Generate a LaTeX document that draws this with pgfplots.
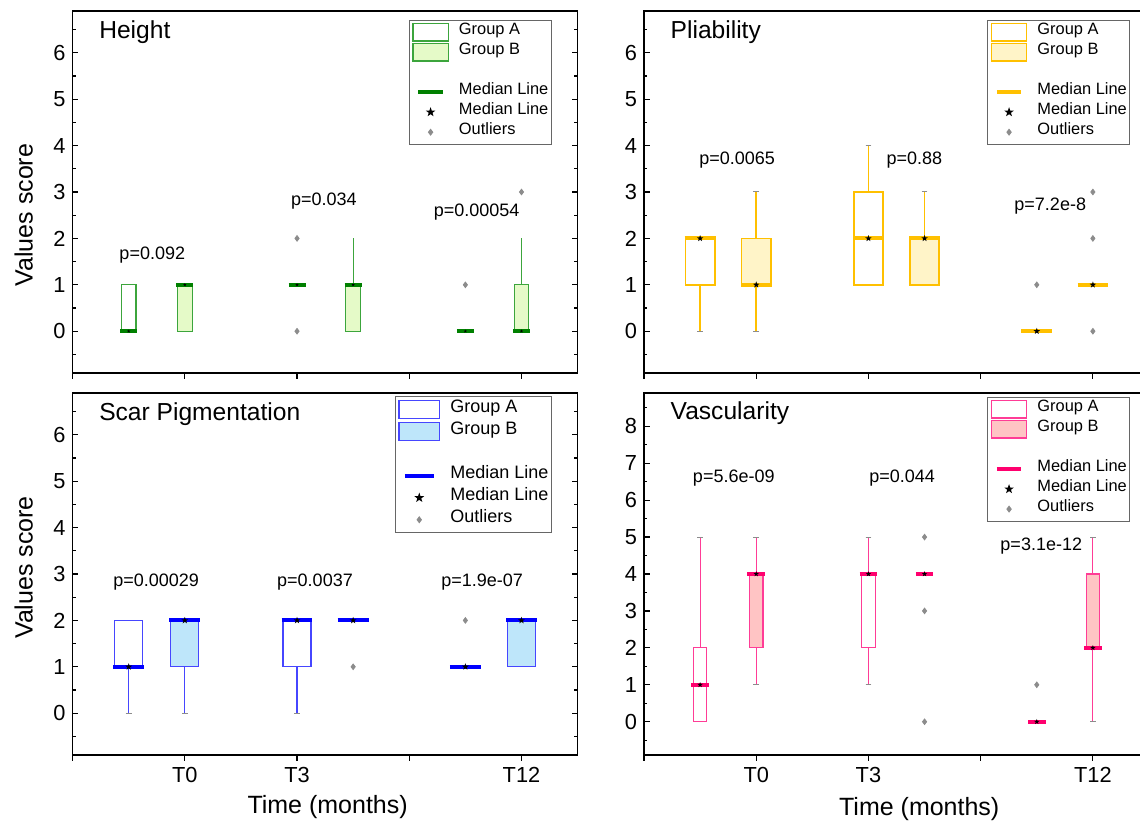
\documentclass[border=0pt]{standalone}
\usepackage{fontspec}
\setmainfont{Liberation Sans}
\usepackage{pgfplots}
\pgfplotsset{compat=1.18}
\usepgfplotslibrary{statistics}

\definecolor{hline}{RGB}{60,165,60}
\definecolor{hmed}{RGB}{0,128,0}
\definecolor{hfill}{RGB}{229,250,200}
\definecolor{pline}{RGB}{255,192,0}
\definecolor{pmed}{RGB}{255,192,0}
\definecolor{pfill}{RGB}{255,244,200}
\definecolor{sline}{RGB}{70,70,255}
\definecolor{smed}{RGB}{0,0,255}
\definecolor{sfill}{RGB}{190,230,250}
\definecolor{vline}{RGB}{255,60,150}
\definecolor{vmed}{RGB}{255,0,110}
\definecolor{vfill}{RGB}{255,196,196}
\definecolor{outc}{RGB}{140,140,140}

% filled five-pointed star
\pgfdeclareplotmark{fstar}{%
  \pgfpathmoveto{\pgfpointpolar{90}{\pgfplotmarksize}}%
  \pgfpathlineto{\pgfpointpolar{126}{0.4\pgfplotmarksize}}%
  \pgfpathlineto{\pgfpointpolar{162}{\pgfplotmarksize}}%
  \pgfpathlineto{\pgfpointpolar{198}{0.4\pgfplotmarksize}}%
  \pgfpathlineto{\pgfpointpolar{234}{\pgfplotmarksize}}%
  \pgfpathlineto{\pgfpointpolar{270}{0.4\pgfplotmarksize}}%
  \pgfpathlineto{\pgfpointpolar{306}{\pgfplotmarksize}}%
  \pgfpathlineto{\pgfpointpolar{342}{0.4\pgfplotmarksize}}%
  \pgfpathlineto{\pgfpointpolar{18}{\pgfplotmarksize}}%
  \pgfpathlineto{\pgfpointpolar{54}{0.4\pgfplotmarksize}}%
  \pgfpathclose\pgfusepathqfill}

\tikzset{
  ptext/.style={font=\fontsize{9}{11}\selectfont},
  ttl/.style={anchor=west, inner sep=0pt, font=\fontsize{12.3}{14}\selectfont},
}

\pgfplotsset{
  panel/.style={
    scale only axis, width=252.5pt, height=181pt,
    xmin=0, xmax=4.5, xtick={0,1,2,3,4},
    xtick pos=left, xtick align=outside, ytick align=inside,
    major tick length=2.8pt, minor tick length=1.6pt,
    every tick/.style={black, line width=0.6pt},
    axis line style={line width=0.7pt},
    /pgf/number format/assume math mode=true,
    tick label style={font=\fontsize{10.9}{12}\selectfont},
    label style={font=\fontsize{12.5}{14}\selectfont},
    clip=false,
    boxplot/draw direction=y,
    boxplot/whisker extend=0.05,
    boxplot/draw/lower whisker/.code={%
      \draw[/pgfplots/boxplot/every whisker/.try]
        (boxplot cs:\pgfplotsboxplotvalue{lower quartile}) --
        (boxplot cs:\pgfplotsboxplotvalue{lower whisker});
      \draw[outc, line width=0.5pt]
        (boxplot whisker cs:\pgfplotsboxplotvalue{lower whisker},0) --
        (boxplot whisker cs:\pgfplotsboxplotvalue{lower whisker},1);},
    boxplot/draw/upper whisker/.code={%
      \draw[/pgfplots/boxplot/every whisker/.try]
        (boxplot cs:\pgfplotsboxplotvalue{upper quartile}) --
        (boxplot cs:\pgfplotsboxplotvalue{upper whisker});
      \draw[outc, line width=0.5pt]
        (boxplot whisker cs:\pgfplotsboxplotvalue{upper whisker},0) --
        (boxplot whisker cs:\pgfplotsboxplotvalue{upper whisker},1);},
    legend cell align=left,
  },
  sixrange/.style={ymin=-0.9, ymax=6.9, ytick={0,...,6}, minor ytick={-0.5,0.5,...,6.5}},
  bx/.style n args={4}{forget plot, draw=#1, line width=0.6pt, boxplot/box extend=#3,
    boxplot/every median/.style={draw=#2, line width=2pt, shorten <=-#4, shorten >=-#4}},
  outl/.style={forget plot, only marks, mark=diamond*, mark size=1.4pt, color=outc},
  med/.style={forget plot, only marks, mark=fstar, mark size=#1, color=black},
  leg/.style n args={5}{legend style={at={(#1,#2)}, anchor=north east,
    draw=black!60, line width=0.5pt, font=\fontsize{#3}{10}\selectfont,
    inner xsep=1.5pt, inner ysep=1pt, row sep=0pt, column sep=5pt,
    nodes={inner sep=0pt, text height=#4, text depth=#5}, cells={anchor=west}}},
  legbox/.style n args={4}{legend image code/.code={%
    \draw[draw=#1, fill=#2, line width=0.7pt] (0pt,-#4) rectangle (#3,#4);}},
  legline/.style n args={4}{legend image code/.code={%
    \path[draw=none, fill=none] (0pt,-4pt) rectangle (#4,4pt);
    \draw[#1, line width=2pt] (#2,0pt) -- (#3,0pt);}},
  legmark/.style n args={4}{legend image code/.code={%
    \path[draw=none, fill=none] (0pt,-4pt) rectangle (#4,4pt);
    \draw[#1, fill=#1] plot[only marks, mark=#2, mark size=#3] coordinates {(0.5*#4,0pt)};}},
}

\begin{document}
\begin{tikzpicture}
\useasboundingbox (0,0) rectangle (570pt,412pt);
\clip (0,0) rectangle (570pt,412pt);

% ---------------- Height ----------------
\begin{axis}[panel, sixrange, at={(36.3pt,225.5pt)}, anchor=south west,
  xticklabels={,,,,},
  ylabel={Values score}, ylabel style={at={(axis description cs:-0.097,0.436)}, anchor=center},
  boxplot/whisker extend=0,
  leg={0.949}{0.976}{8.2}{6.3pt}{3.7pt}]
\addplot[bx={hline}{hmed}{0.13}{0.6pt}, fill=white, boxplot prepared={draw position=0.5,
  lower whisker=0, lower quartile=0, median=0, upper quartile=1, upper whisker=1}] coordinates {};
\addplot[bx={hline}{hmed}{0.13}{0.6pt}, fill=hfill, boxplot prepared={draw position=1,
  lower whisker=0, lower quartile=0, median=1, upper quartile=1, upper whisker=1}] coordinates {};
\addplot[bx={hline}{hmed}{0.13}{0.6pt}, fill=white, boxplot prepared={draw position=2,
  lower whisker=1, lower quartile=1, median=1, upper quartile=1, upper whisker=1}] coordinates {};
\addplot[bx={hline}{hmed}{0.13}{0.6pt}, fill=hfill, boxplot prepared={draw position=2.5,
  lower whisker=0, lower quartile=0, median=1, upper quartile=1, upper whisker=2}] coordinates {};
\addplot[bx={hline}{hmed}{0.13}{0.6pt}, fill=white, boxplot prepared={draw position=3.5,
  lower whisker=0, lower quartile=0, median=0, upper quartile=0, upper whisker=0}] coordinates {};
\addplot[bx={hline}{hmed}{0.13}{0.6pt}, fill=hfill, boxplot prepared={draw position=4,
  lower whisker=0, lower quartile=0, median=0, upper quartile=1, upper whisker=2}] coordinates {};
\addplot[outl] coordinates {(2,2) (2,0) (3.5,1) (4,3)};
\addplot[med=0.9pt] coordinates {(0.5,0) (1,1) (2,1) (2.5,1) (3.5,0) (4,0)};
\addlegendimage{legbox={hline}{white}{17.7pt}{4.4pt}}\addlegendentry{Group A}
\addlegendimage{legbox={hline}{hfill}{17.7pt}{4.4pt}}\addlegendentry{Group B}
\addlegendimage{empty legend}\addlegendentry{}
\addlegendimage{legline={hmed}{2.8pt}{15pt}{17.7pt}}\addlegendentry{Median Line}
\addlegendimage{legmark={black}{fstar}{2.5pt}{17.7pt}}\addlegendentry{Median Line}
\addlegendimage{legmark={outc}{diamond*}{1.4pt}{17.7pt}}\addlegendentry{Outliers}
\node[ttl] at (rel axis cs:0.052,0.942) {Height};
\node[ptext] at (axis cs:0.71,1.64) {p=0.092};
\node[ptext] at (axis cs:2.24,2.81) {p=0.034};
\node[ptext] at (axis cs:3.6,2.56) {p=0.00054};
\end{axis}

% ---------------- Pliability ----------------
\begin{axis}[panel, sixrange, at={(322pt,225.5pt)}, anchor=south west,
  xticklabels={,,,,},
  leg={0.963}{0.976}{8.2}{6.3pt}{3.7pt}]
\addplot[bx={pline}{pmed}{0.26}{0.4pt}, line width=0.8pt, fill=white, boxplot prepared={draw position=0.5,
  lower whisker=0, lower quartile=1, median=2, upper quartile=2, upper whisker=2}] coordinates {};
\addplot[bx={pline}{pmed}{0.26}{0.4pt}, line width=0.8pt, fill=pfill, boxplot prepared={draw position=1,
  lower whisker=0, lower quartile=1, median=1, upper quartile=2, upper whisker=3}] coordinates {};
\addplot[bx={pline}{pmed}{0.26}{0.4pt}, line width=0.8pt, fill=white, boxplot prepared={draw position=2,
  lower whisker=1, lower quartile=1, median=2, upper quartile=3, upper whisker=4}] coordinates {};
\addplot[bx={pline}{pmed}{0.26}{0.4pt}, line width=0.8pt, fill=pfill, boxplot prepared={draw position=2.5,
  lower whisker=1, lower quartile=1, median=2, upper quartile=2, upper whisker=3}] coordinates {};
\addplot[bx={pline}{pmed}{0.26}{0.4pt}, line width=0.8pt, fill=white, boxplot prepared={draw position=3.5,
  lower whisker=0, lower quartile=0, median=0, upper quartile=0, upper whisker=0}] coordinates {};
\addplot[bx={pline}{pmed}{0.26}{0.4pt}, line width=0.8pt, fill=pfill, boxplot prepared={draw position=4,
  lower whisker=1, lower quartile=1, median=1, upper quartile=1, upper whisker=1}] coordinates {};
\addplot[outl] coordinates {(3.5,1) (4,0) (4,2) (4,3)};
\addplot[med=1.7pt] coordinates {(0.5,2) (1,1) (2,2) (2.5,2) (3.5,0) (4,1)};
\addlegendimage{legbox={pline}{white}{17.7pt}{4.4pt}}\addlegendentry{Group A}
\addlegendimage{legbox={pline}{pfill}{17.7pt}{4.4pt}}\addlegendentry{Group B}
\addlegendimage{empty legend}\addlegendentry{}
\addlegendimage{legline={pmed}{2.8pt}{15pt}{17.7pt}}\addlegendentry{Median Line}
\addlegendimage{legmark={black}{fstar}{2.5pt}{17.7pt}}\addlegendentry{Median Line}
\addlegendimage{legmark={outc}{diamond*}{1.4pt}{17.7pt}}\addlegendentry{Outliers}
\node[ttl] at (rel axis cs:0.052,0.942) {Pliability};
\node[ptext] at (axis cs:0.83,3.69) {p=0.0065};
\node[ptext] at (axis cs:2.41,3.69) {p=0.88};
\node[ptext] at (axis cs:3.62,2.69) {p=7.2e-8};
\end{axis}

% ---------------- Scar Pigmentation ----------------
\begin{axis}[panel, sixrange, at={(36.3pt,34.5pt)}, anchor=south west,
  xticklabels={,T0,T3,,T12},
  xlabel={Time (months)}, xlabel style={at={(axis description cs:0.505,-0.143)}, anchor=center},
  ylabel={Values score}, ylabel style={at={(axis description cs:-0.097,0.518)}, anchor=center},
  leg={0.949}{0.991}{9}{7pt}{4pt}]
\addplot[bx={sline}{smed}{0.25}{0.7pt}, fill=white, boxplot prepared={draw position=0.5,
  lower whisker=0, lower quartile=1, median=1, upper quartile=2, upper whisker=2}] coordinates {};
\addplot[bx={sline}{smed}{0.25}{0.7pt}, fill=sfill, boxplot prepared={draw position=1,
  lower whisker=0, lower quartile=1, median=2, upper quartile=2, upper whisker=2}] coordinates {};
\addplot[bx={sline}{smed}{0.25}{0.7pt}, fill=white, boxplot prepared={draw position=2,
  lower whisker=0, lower quartile=1, median=2, upper quartile=2, upper whisker=2}] coordinates {};
\addplot[bx={sline}{smed}{0.25}{0.7pt}, fill=sfill, boxplot prepared={draw position=2.5,
  lower whisker=2, lower quartile=2, median=2, upper quartile=2, upper whisker=2}] coordinates {};
\addplot[bx={sline}{smed}{0.25}{0.7pt}, fill=white, boxplot prepared={draw position=3.5,
  lower whisker=1, lower quartile=1, median=1, upper quartile=1, upper whisker=1}] coordinates {};
\addplot[bx={sline}{smed}{0.25}{0.7pt}, fill=sfill, boxplot prepared={draw position=4,
  lower whisker=1, lower quartile=1, median=2, upper quartile=2, upper whisker=2}] coordinates {};
\addplot[outl] coordinates {(2.5,1) (3.5,2)};
\addplot[med=1.8pt] coordinates {(0.5,1) (1,2) (2,2) (2.5,2) (3.5,1) (4,2)};
\addlegendimage{legbox={sline}{white}{20.3pt}{4.5pt}}\addlegendentry{Group A}
\addlegendimage{legbox={sline}{sfill}{20.3pt}{4.5pt}}\addlegendentry{Group B}
\addlegendimage{empty legend}\addlegendentry{}
\addlegendimage{legline={smed}{3pt}{17.3pt}{20.3pt}}\addlegendentry{Median Line}
\addlegendimage{legmark={black}{fstar}{2.6pt}{20.3pt}}\addlegendentry{Median Line}
\addlegendimage{legmark={outc}{diamond*}{1.4pt}{20.3pt}}\addlegendentry{Outliers}
\node[ttl] at (rel axis cs:0.052,0.943) {Scar Pigmentation};
\node[ptext] at (axis cs:0.745,2.83) {p=0.00029};
\node[ptext] at (axis cs:2.16,2.83) {p=0.0037};
\node[ptext] at (axis cs:3.65,2.83) {p=1.9e-07};
\end{axis}

% ---------------- Vascularity ----------------
\begin{axis}[panel, at={(322pt,34.5pt)}, anchor=south west,
  ymin=-0.9, ymax=8.9, ytick={0,...,8}, minor ytick={-0.5,0.5,...,8.5},
  xticklabels={,T0,T3,,T12},
  xlabel={Time (months)}, xlabel style={at={(axis description cs:0.545,-0.149)}, anchor=center},
  leg={0.963}{0.99}{8.2}{6.3pt}{3.7pt}]
\addplot[bx={vline}{vmed}{0.12}{1pt}, fill=white, boxplot prepared={draw position=0.5,
  lower whisker=0, lower quartile=0, median=1, upper quartile=2, upper whisker=5}] coordinates {};
\addplot[bx={vline}{vmed}{0.12}{1pt}, fill=vfill, boxplot prepared={draw position=1,
  lower whisker=1, lower quartile=2, median=4, upper quartile=4, upper whisker=5}] coordinates {};
\addplot[bx={vline}{vmed}{0.12}{1pt}, fill=white, boxplot prepared={draw position=2,
  lower whisker=1, lower quartile=2, median=4, upper quartile=4, upper whisker=5}] coordinates {};
\addplot[bx={vline}{vmed}{0.12}{1pt}, fill=vfill, boxplot prepared={draw position=2.5,
  lower whisker=4, lower quartile=4, median=4, upper quartile=4, upper whisker=4}] coordinates {};
\addplot[bx={vline}{vmed}{0.12}{1pt}, fill=white, boxplot prepared={draw position=3.5,
  lower whisker=0, lower quartile=0, median=0, upper quartile=0, upper whisker=0}] coordinates {};
\addplot[bx={vline}{vmed}{0.12}{1pt}, fill=vfill, boxplot prepared={draw position=4,
  lower whisker=0, lower quartile=2, median=2, upper quartile=4, upper whisker=5}] coordinates {};
\addplot[outl] coordinates {(2.5,5) (2.5,3) (2.5,0) (3.5,1)};
\addplot[med=1.4pt] coordinates {(0.5,1) (1,4) (2,4) (2.5,4) (3.5,0) (4,2)};
\addlegendimage{legbox={vline}{white}{17.7pt}{4.4pt}}\addlegendentry{Group A}
\addlegendimage{legbox={vline}{vfill}{17.7pt}{4.4pt}}\addlegendentry{Group B}
\addlegendimage{empty legend}\addlegendentry{}
\addlegendimage{legline={vmed}{2.8pt}{15pt}{17.7pt}}\addlegendentry{Median Line}
\addlegendimage{legmark={black}{fstar}{2.5pt}{17.7pt}}\addlegendentry{Median Line}
\addlegendimage{legmark={outc}{diamond*}{1.4pt}{17.7pt}}\addlegendentry{Outliers}
\node[ttl] at (rel axis cs:0.052,0.943) {Vascularity};
\node[ptext] at (axis cs:0.80,6.61) {p=5.6e-09};
\node[ptext] at (axis cs:2.30,6.61) {p=0.044};
\node[ptext] at (axis cs:3.54,4.76) {p=3.1e-12};
\end{axis}
\end{tikzpicture}
\end{document}
